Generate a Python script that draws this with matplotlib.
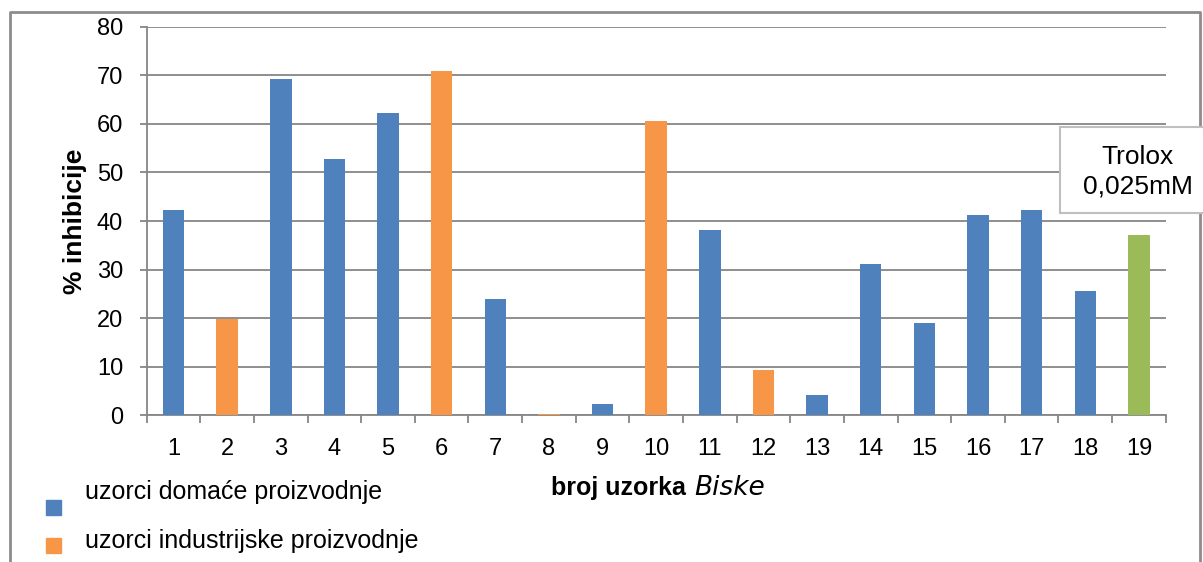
import matplotlib
matplotlib.use("Agg")
import matplotlib.pyplot as plt
from matplotlib.lines import Line2D
from matplotlib.patches import Rectangle

plt.rcParams['font.family'] = ['Liberation Sans', 'DejaVu Sans']

# bar values (% inhibicije)
samples = list(range(1, 20))
inhibition = [42.3, 19.8, 69.2, 52.8, 62.2, 70.9, 23.9, 0.3, 2.4, 60.6,
              38.1, 9.3, 4.2, 31.1, 18.9, 41.2, 42.2, 25.5, 37.1]
# 'd' = domaca, 'i' = industrijska, 't' = Trolox
group = ['d', 'i', 'd', 'd', 'd', 'i', 'd', 'i', 'd', 'i',
         'd', 'i', 'd', 'd', 'd', 'd', 'd', 'd', 't']
colors = {'d': '#4F81BD', 'i': '#F79646', 't': '#9BBB59'}
legend_labels = ['uzorci domaće proizvodnje', 'uzorci industrijske proizvodnje']
legend_groups = ['d', 'i']
trolox_label = 'Trolox\n0,025mM'

grid_c = '#868686'

fig = plt.figure(figsize=(12.03, 5.62), dpi=100)
ax = fig.add_axes([146.7 / 1203, 146.7 / 562, 1019 / 1203, 388.6 / 562])

ax.bar(samples, inhibition, width=0.4, color=[colors[g] for g in group], zorder=3)

ax.set_xlim(0.5, 19.5)
ax.set_ylim(0, 80)
ax.set_yticks(range(0, 81, 10))
ax.yaxis.grid(True, color=grid_c, linewidth=1.3, zorder=0)
ax.tick_params(axis='y', length=5, width=1.3, color=grid_c, pad=12, labelsize=17)

# category boundaries carry the tick marks, centers carry the labels
ax.set_xticks([s - 0.5 for s in samples] + [samples[-1] + 0.5])
ax.set_xticklabels([])
ax.tick_params(axis='x', which='major', length=6, width=1.3, color=grid_c)
ax.set_xticks(samples, minor=True)
ax.set_xticklabels([str(s) for s in samples], minor=True)
ax.tick_params(axis='x', which='minor', length=0, pad=16, labelsize=17)

for side in ['top', 'right']:
    ax.spines[side].set_visible(False)
for side in ['left', 'bottom']:
    ax.spines[side].set_color(grid_c)
    ax.spines[side].set_linewidth(1.3)

ax.set_ylabel('% inhibicije', fontsize=19, fontweight='bold')
ax.yaxis.set_label_coords(-60 / 1019, 0.5)

# x axis label: bold text followed by italic 'Biske'
fig.text(686 / 1203, 1 - 495 / 562, 'broj uzorka', ha='right', va='baseline',
         fontsize=18, fontweight='bold')
fig.text(694 / 1203, 1 - 495 / 562, 'Biske', ha='left', va='baseline',
         fontsize=19, fontstyle='italic', family='DejaVu Sans')

# legend: squares sit a little below their text, as in the reference
text_y = [492, 541]
key_y = [507, 545]
for lab, g, ty, ky in zip(legend_labels, legend_groups, text_y, key_y):
    fig.add_artist(Rectangle((46 / 1203, 1 - (ky + 7.5) / 562), 15 / 1203, 15 / 562,
                             transform=fig.transFigure, color=colors[g]))
    fig.text(85 / 1203, 1 - ty / 562, lab, ha='left', va='center', fontsize=18)

# Trolox note box, running past the right edge like in the reference
fig.add_artist(Rectangle((1060 / 1203, 1 - 213 / 562), 160 / 1203, 86 / 562,
                         transform=fig.transFigure, facecolor='white',
                         edgecolor='#BFBFBF', linewidth=1.5, zorder=5))
fig.text(1138 / 1203, 1 - 172 / 562, trolox_label, ha='center', va='center',
         fontsize=19, linespacing=1.3, zorder=6)

# outer chart frame (bottom edge lies outside the picture)
fx0, fx1, fy1 = 10 / 1203, 1200 / 1203, 1 - 12 / 562
fig.add_artist(Line2D([fx0, fx0, fx1, fx1], [0, fy1, fy1, 0], transform=fig.transFigure,
                      color='#8C8C8C', linewidth=2))

fig.savefig('out.png', dpi=100, facecolor='white')
